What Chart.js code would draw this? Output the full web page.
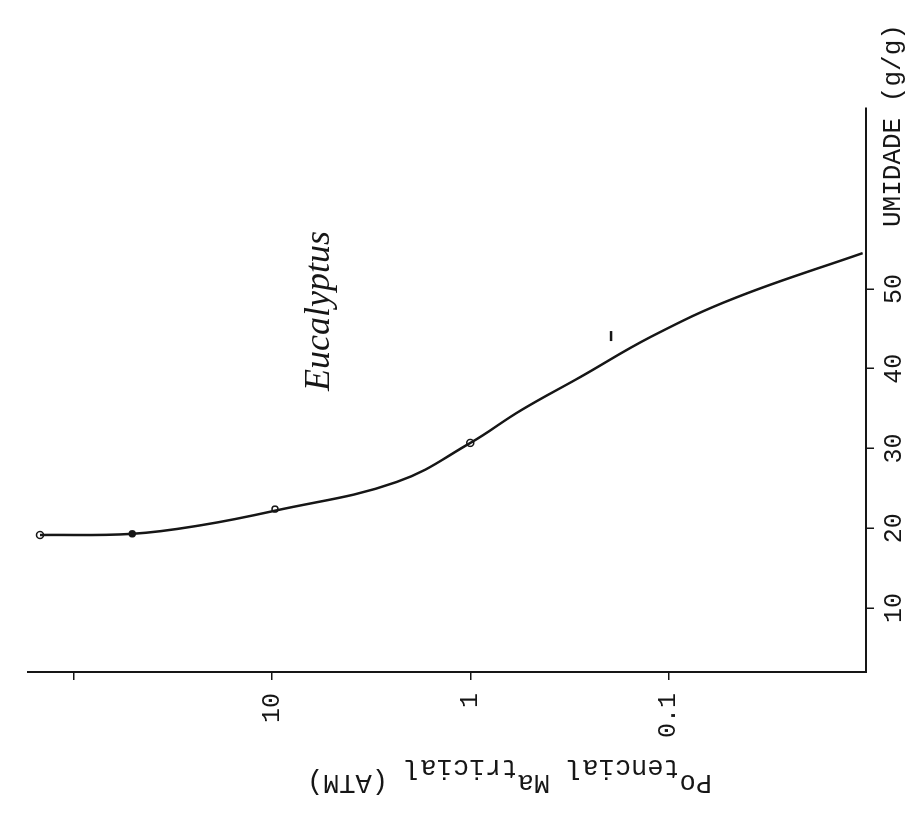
<!DOCTYPE html>
<html>
<head>
<meta charset="utf-8">
<script src="https://cdn.jsdelivr.net/npm/chart.js@4.4.0/dist/chart.umd.min.js"></script>
<style>
  html, body { margin: 0; padding: 0; background: #fff; overflow: hidden; }
  /* a figura original esta girada 90 graus no papel */
  #wrap { position: absolute; left: 0; top: 0; width: 815px; height: 911px;
          transform-origin: 0 0; transform: translate(0, 815px) rotate(-90deg); }
</style>
</head>
<body>
<div id="wrap"><canvas id="grafico" width="815" height="911"></canvas></div>
<script>
// Curva ajustada: umidade (g/g, em %) x potencial matricial (atm)
const umidadeCurva   = [19.15, 19.3, 20.4, 22.2, 25.8, 30.7, 34.8, 39.0, 44.0, 48.9, 54.5];
const potencialCurva = [148, 50.6, 22.5, 9.66, 2.35, 1.0, 0.554, 0.277, 0.123, 0.046, 0.0105];

// Pontos medidos
const umidadePontos   = [19.15, 19.3, 22.4, 30.7, 44.1];
const potencialPontos = [148, 50.6, 9.66, 1.0, 0.195];

// Marcas dos eixos
const ticksUmidade = [10, 20, 30, 40, 50];
const ticksPotencial = [100, 10, 1, 0.1];
const rotulosPotencial = ['', '10', '1', '0.1'];

const tituloUmidade = 'UMIDADE (g/g)';
const rotuloEspecie = 'Eucalyptus';
// titulo do eixo y em pedacos, desalinhados como na maquina de escrever
const partesPotencial = [['Po', true], ['tencial', false], [' ', false], ['Ma', true], ['tricial', false], [' (ATM)', true]];

const tinta = '#161616';
const fonteMono = "'Liberation Mono', 'DejaVu Sans Mono', monospace";

const textos = {
  id: 'textos',
  afterDraw(chart) {
    const ctx = chart.ctx;
    ctx.save();
    ctx.fillStyle = tinta;
    ctx.textAlign = 'left';
    ctx.textBaseline = 'alphabetic';

    ctx.font = '26px ' + fonteMono;
    ctx.fillText(tituloUmidade, 588, 900);

    ctx.font = "italic 36px 'Liberation Serif', serif";
    ctx.fillText(rotuloEspecie, 424, 329);

    ctx.font = '27px ' + fonteMono;
    ctx.translate(0, 712);
    ctx.rotate(-Math.PI / 2);
    let x = 0;
    partesPotencial.forEach(([txt, alto]) => {
      ctx.fillText(txt, x, alto ? 40 : 55);
      x += ctx.measureText(txt).width;
    });
    ctx.restore();
  }
};

new Chart(document.getElementById('grafico'), {
  type: 'scatter',
  data: {
    datasets: [
      {
        label: 'curva',
        data: umidadeCurva.map((u, i) => ({ x: u, y: potencialCurva[i] })),
        showLine: true,
        borderColor: tinta,
        borderWidth: 2.5,
        tension: 0.4,
        pointRadius: 0
      },
      {
        label: 'pontos',
        data: umidadePontos.map((u, i) => ({ x: u, y: potencialPontos[i] })),
        pointStyle: ['circle', 'circle', 'circle', 'circle', 'line'],
        pointRadius: [3.5, 3, 3, 3.5, 5],
        backgroundColor: ['#fff', tinta, '#fff', '#fff', tinta],
        borderColor: tinta,
        borderWidth: [1.5, 1.5, 1.5, 1.5, 2.5]
      }
    ]
  },
  options: {
    responsive: false,
    animation: false,
    devicePixelRatio: 1,
    layout: { padding: { top: 25, right: 108, bottom: 0, left: 0 } },
    plugins: {
      legend: { display: false },
      tooltip: { enabled: false }
    },
    scales: {
      x: {
        type: 'linear',
        min: 1.97,
        max: 72.7,
        afterFit: s => { s.height = 45; },
        afterBuildTicks: s => { s.ticks = ticksUmidade.map(v => ({ value: v })); },
        border: { display: true, color: tinta, width: 2 },
        grid: { drawOnChartArea: false, drawTicks: true, tickLength: 8, color: tinta, lineWidth: 1.5 },
        ticks: { color: tinta, padding: 5, maxRotation: 0, font: { family: fonteMono, size: 25 } }
      },
      y: {
        type: 'logarithmic',
        min: 0.0101,
        max: 170,
        afterFit: s => { s.width = 143; },
        afterBuildTicks: s => { s.ticks = ticksPotencial.map(v => ({ value: v })); },
        border: { display: true, color: tinta, width: 2 },
        grid: { drawOnChartArea: false, drawTicks: true, tickLength: 8, color: tinta, lineWidth: 1.5 },
        ticks: {
          color: tinta,
          padding: 13,
          font: { family: fonteMono, size: 25 },
          callback: v => rotulosPotencial[ticksPotencial.indexOf(v)]
        }
      }
    }
  },
  plugins: [textos]
});
</script>
</body>
</html>
